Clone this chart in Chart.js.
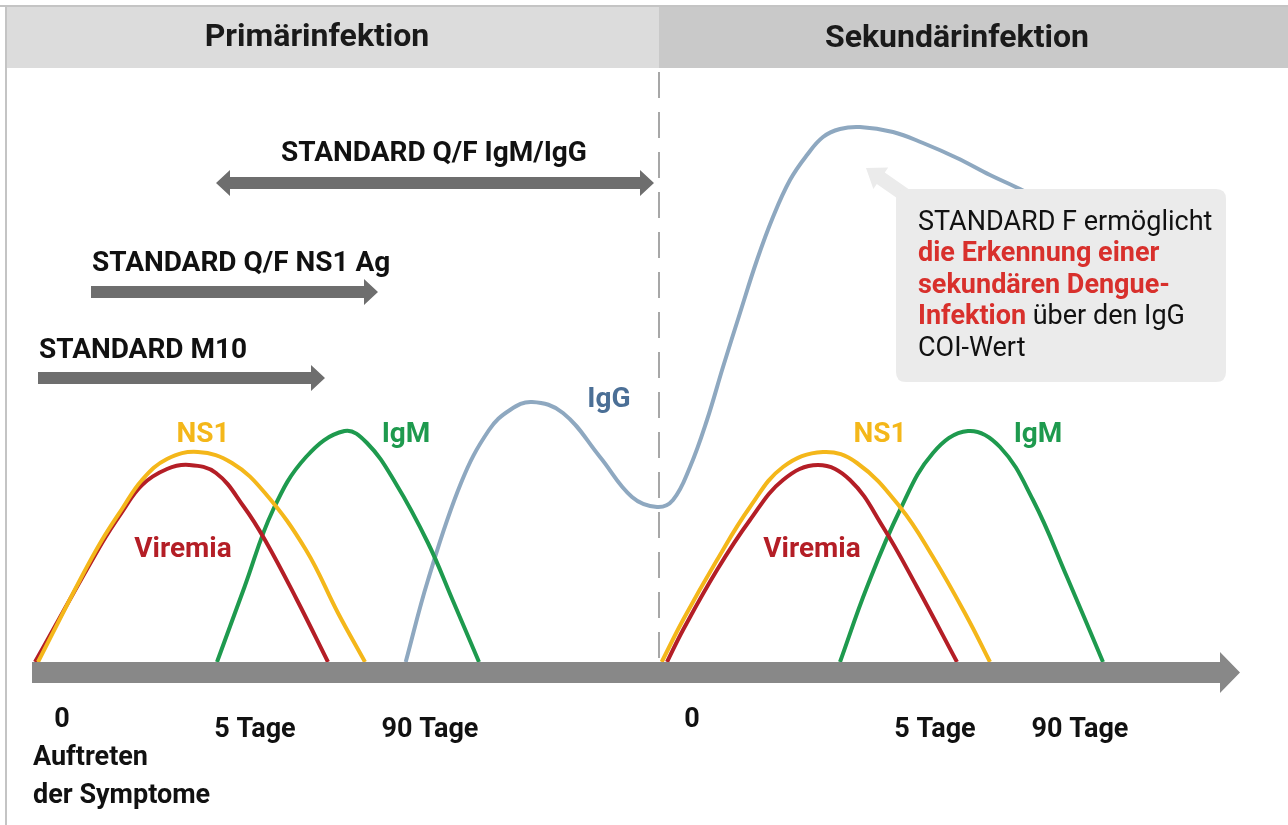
<!DOCTYPE html>
<html lang="de">
<head>
    <meta charset="UTF-8">
    <title>Dengue – Primär- und Sekundärinfektion</title>
    <script src="https://cdn.jsdelivr.net/npm/chart.js"></script>
    <style>
        html, body { margin: 0; padding: 0; background: #ffffff; }
        #chart-container { width: 1288px; height: 825px; position: relative; }
    </style>
</head>
<body>
    <div id="chart-container">
        <canvas id="myChart"></canvas>
    </div>

    <script>
        // Schematic values: x = time (arbitrary units), y = level (arbitrary units)
        // Primary infection
        var primNs1Time = [3.8, 8.1, 10.2, 12.2, 14.2, 16.7, 19.8, 23.2, 26.5, 30.6, 33.8, 36.5];
        var primNs1Level = [-0.2, 8.2, 12.0, 15.1, 18.0, 20.1, 20.8, 19.7, 16.7, 11.0, 4.7, -0.2];
        var primViremiaTime = [3.5, 10.2, 12.2, 14.2, 16.7, 18.9, 21.6, 24.4, 26.5, 29.7, 32.8];
        var primViremiaLevel = [-0.2, 11.7, 14.8, 17.5, 19.1, 19.5, 18.7, 15.3, 12.0, 6.0, -0.2];
        var primIgmTime = [21.7, 24.45, 27.3, 30.6, 34.45, 36.7, 39.55, 42.8, 45.26, 47.9];
        var primIgmLevel = [-0.2, 7.3, 15.0, 20.3, 22.9, 21.7, 17.7, 11.7, 6.0, -0.2];

        // IgG runs from the primary into the secondary infection
        var iggTime = [40.57, 42.8, 46.1, 48.9, 51.0, 53.2, 56.3, 60.0, 63.2, 65.7, 67.3, 69.0, 70.7, 72.3, 74.0,
                       75.7, 77.3, 79.0, 80.7, 82.3, 84.0, 86.0, 89.3, 92.3, 95.7, 99.0, 102.0, 105.0];
        var iggLevel = [-0.2, 8.0, 17.7, 23.0, 25.0, 25.8, 24.7, 20.3, 16.3, 15.3, 16.0, 19.3, 24.0, 29.3, 34.7,
                        40.0, 44.3, 48.0, 50.5, 52.3, 53.1, 53.3, 52.8, 51.7, 50.2, 48.5, 47.1, 45.5];

        // Secondary infection
        var secNs1Time = [66.17, 68.3, 71.7, 75.0, 78.3, 82.3, 85.7, 90.0, 93.3, 96.7, 99.0];
        var secNs1Level = [-0.2, 4.0, 10.0, 15.3, 19.3, 20.8, 19.7, 15.3, 10.3, 4.3, -0.2];
        var secViremiaTime = [66.7, 68.3, 71.7, 75.0, 78.3, 81.8, 85.0, 88.3, 91.7, 95.7];
        var secViremiaLevel = [-0.2, 3.0, 9.0, 14.0, 18.0, 19.5, 18.0, 13.3, 7.3, -0.2];
        var secIgmTime = [84.0, 86.7, 90.0, 93.3, 96.8, 100.0, 103.3, 106.7, 110.3];
        var secIgmLevel = [-0.2, 7.3, 15.0, 20.7, 22.9, 21.3, 16.0, 8.3, -0.2];

        // Test windows (time ranges)
        var testNames = ['STANDARD M10', 'STANDARD Q/F NS1 Ag', 'STANDARD Q/F IgM/IgG'];
        var testStart = [3.8, 9.1, 21.6];
        var testEnd = [32.5, 37.8, 65.4];

        // Time axis tick labels
        var tickLabels = ['0', '5 Tage', '90 Tage', '0', '5 Tage', '90 Tage'];
        var tickTimes = [6.2, 25.5, 43.0, 69.2, 93.5, 108.0];

        var infectionSplit = 65.9;
        var axisStart = 3.2;
        var axisEnd = 124.0;

        var sectionTitles = ['Primärinfektion', 'Sekundärinfektion'];

        var FONT = 'Roboto, "Liberation Sans", sans-serif';

        function zip(xs, ys) {
            return xs.map(function (x, i) { return { x: x, y: ys[i] }; });
        }

        function curve(label, xs, ys, color, order) {
            return {
                label: label,
                data: zip(xs, ys),
                borderColor: color,
                borderWidth: 4,
                pointRadius: 0,
                fill: false,
                tension: 0.4,
                order: order
            };
        }

        // draws a horizontal block arrow
        function blockArrow(ctx, x0, x1, yc, shaft, head, headLen, both, color) {
            var s = shaft / 2, h = head / 2;
            ctx.beginPath();
            if (both) {
                ctx.moveTo(x0, yc);
                ctx.lineTo(x0 + headLen, yc - h);
                ctx.lineTo(x0 + headLen, yc - s);
            } else {
                ctx.moveTo(x0, yc - s);
            }
            ctx.lineTo(x1 - headLen, yc - s);
            ctx.lineTo(x1 - headLen, yc - h);
            ctx.lineTo(x1, yc);
            ctx.lineTo(x1 - headLen, yc + h);
            ctx.lineTo(x1 - headLen, yc + s);
            if (both) {
                ctx.lineTo(x0 + headLen, yc + s);
                ctx.lineTo(x0 + headLen, yc + h);
            } else {
                ctx.lineTo(x0, yc + s);
            }
            ctx.closePath();
            ctx.fillStyle = color;
            ctx.fill();
        }

        function roundRect(ctx, x, y, w, h, r) {
            ctx.beginPath();
            ctx.moveTo(x + r, y);
            ctx.lineTo(x + w - r, y);
            ctx.quadraticCurveTo(x + w, y, x + w, y + r);
            ctx.lineTo(x + w, y + h - r);
            ctx.quadraticCurveTo(x + w, y + h, x + w - r, y + h);
            ctx.lineTo(x + r, y + h);
            ctx.quadraticCurveTo(x, y + h, x, y + h - r);
            ctx.lineTo(x, y + r);
            ctx.quadraticCurveTo(x, y, x + r, y);
            ctx.closePath();
        }

        var decorPlugin = {
            id: 'decor',
            beforeDatasetsDraw: function (chart) {
                var ctx = chart.ctx;
                var xs = chart.scales.x, ys = chart.scales.y;
                var W = chart.width, H = chart.height;
                var split = xs.getPixelForValue(infectionSplit);
                ctx.save();

                // frame lines
                ctx.fillStyle = '#c4c4c4';
                ctx.fillRect(0, 5, W, 2);
                ctx.fillRect(5, 5, 2, H - 5);

                // header bands
                ctx.fillStyle = '#dcdcdc';
                ctx.fillRect(7, 7, split - 7, 61);
                ctx.fillStyle = '#c9c9c9';
                ctx.fillRect(split, 7, W - split, 61);
                ctx.fillStyle = '#1a1a1a';
                ctx.font = 'bold 32px ' + FONT;
                ctx.textAlign = 'center';
                ctx.textBaseline = 'middle';
                ctx.fillText(sectionTitles[0], 317, 38);
                ctx.fillText(sectionTitles[1], 957, 39);

                // dashed divider
                ctx.strokeStyle = '#8a8a8a';
                ctx.lineWidth = 1.5;
                ctx.setLineDash([26, 14]);
                ctx.beginPath();
                ctx.moveTo(split, 72);
                ctx.lineTo(split, ys.getPixelForValue(0));
                ctx.stroke();
                ctx.setLineDash([]);

                // test windows
                var laneLevels = [28.2, 36.8, 47.7];
                var labelLift = [27, 28, 29];
                for (var i = 0; i < testNames.length; i++) {
                    var x0 = xs.getPixelForValue(testStart[i]);
                    var x1 = xs.getPixelForValue(testEnd[i]);
                    var yc = ys.getPixelForValue(laneLevels[i]);
                    var both = i === 2;
                    blockArrow(ctx, x0, x1, yc, 12, 26, 14, both, '#6e6e6e');
                    ctx.fillStyle = '#111111';
                    ctx.font = 'bold 28px ' + FONT;
                    ctx.textBaseline = 'middle';
                    if (both) {
                        ctx.textAlign = 'center';
                        ctx.fillText(testNames[i], 434, yc - labelLift[i]);
                    } else {
                        ctx.textAlign = 'left';
                        ctx.fillText(testNames[i], x0 + 1, yc - labelLift[i]);
                    }
                }
                ctx.restore();
            },
            afterDatasetsDraw: function (chart) {
                var ctx = chart.ctx;
                var xs = chart.scales.x, ys = chart.scales.y;
                ctx.save();

                // time axis arrow (covers the curve ends)
                var base = ys.getPixelForValue(0);
                blockArrow(ctx, xs.getPixelForValue(axisStart), xs.getPixelForValue(axisEnd),
                    base + 12.5, 21, 41, 20, false, '#888888');

                // tick labels
                ctx.fillStyle = '#111111';
                ctx.font = 'bold 27px ' + FONT;
                ctx.textAlign = 'center';
                ctx.textBaseline = 'middle';
                for (var i = 0; i < tickLabels.length; i++) {
                    var ty = tickLabels[i] === '0' ? base + 60 : base + 70;
                    ctx.fillText(tickLabels[i], xs.getPixelForValue(tickTimes[i]), ty);
                }
                ctx.textAlign = 'left';
                ctx.fillText('Auftreten', 33, base + 98);
                ctx.fillText('der Symptome', 33, base + 136);

                // curve labels
                var curveLabels = [
                    ['NS1', 20.3, 22.5, '#f4b71a'], ['IgM', 40.6, 22.5, '#1e9a4e'],
                    ['Viremia', 18.3, 11.0, '#b41e26'], ['IgG', 60.9, 26.0, '#4b6f96'],
                    ['NS1', 88.0, 22.5, '#f4b71a'], ['IgM', 103.8, 22.5, '#1e9a4e'],
                    ['Viremia', 81.2, 11.0, '#b41e26']
                ];
                ctx.font = 'bold 28px ' + FONT;
                ctx.textAlign = 'center';
                curveLabels.forEach(function (c) {
                    ctx.fillStyle = c[3];
                    ctx.fillText(c[0], xs.getPixelForValue(c[1]), ys.getPixelForValue(c[2]));
                });

                // callout with pointer
                var bx = 896, by = 189, bw = 330, bh = 193;
                ctx.fillStyle = '#ebebeb';
                var tip = [866, 168], from = [912, 200];
                var dx = tip[0] - from[0], dy = tip[1] - from[1];
                var len = Math.sqrt(dx * dx + dy * dy);
                var ux = dx / len, uy = dy / len, nx = -uy, ny = ux;
                var hb = [tip[0] - ux * 18, tip[1] - uy * 18];
                ctx.beginPath();
                ctx.moveTo(from[0] + nx * 7, from[1] + ny * 7);
                ctx.lineTo(hb[0] + nx * 7, hb[1] + ny * 7);
                ctx.lineTo(hb[0] + nx * 13, hb[1] + ny * 13);
                ctx.lineTo(tip[0], tip[1]);
                ctx.lineTo(hb[0] - nx * 13, hb[1] - ny * 13);
                ctx.lineTo(hb[0] - nx * 7, hb[1] - ny * 7);
                ctx.lineTo(from[0] - nx * 7, from[1] - ny * 7);
                ctx.closePath();
                ctx.fill();
                roundRect(ctx, bx, by, bw, bh, 10);
                ctx.fill();

                var lines = [
                    [['STANDARD F ermöglicht', false]],
                    [['die Erkennung einer', true]],
                    [['sekundären Dengue-', true]],
                    [['Infektion', true], [' über den IgG', false]],
                    [['COI-Wert', false]]
                ];
                ctx.textAlign = 'left';
                ctx.textBaseline = 'middle';
                lines.forEach(function (segs, li) {
                    var x = 918, y = 223 + li * 31.5;
                    segs.forEach(function (s) {
                        ctx.font = (s[1] ? 'bold ' : '') + '27px ' + FONT;
                        ctx.fillStyle = s[1] ? '#d8302c' : '#111111';
                        ctx.fillText(s[0], x, y);
                        x += ctx.measureText(s[0]).width;
                    });
                });
                ctx.restore();
            }
        };

        function createGraph() {
            var ctx = document.getElementById('myChart').getContext('2d');
            new Chart(ctx, {
                type: 'line',
                data: {
                    datasets: [
                        curve('IgG', iggTime, iggLevel, '#8ea8c0', 7),
                        curve('IgM primär', primIgmTime, primIgmLevel, '#1e9a4e', 6),
                        curve('Viremia primär', primViremiaTime, primViremiaLevel, '#b41e26', 5),
                        curve('NS1 primär', primNs1Time, primNs1Level, '#f4b71a', 4),
                        curve('IgM sekundär', secIgmTime, secIgmLevel, '#1e9a4e', 3),
                        curve('Viremia sekundär', secViremiaTime, secViremiaLevel, '#b41e26', 2),
                        curve('NS1 sekundär', secNs1Time, secNs1Level, '#f4b71a', 1)
                    ]
                },
                options: {
                    responsive: true,
                    maintainAspectRatio: false,
                    animation: false,
                    layout: { padding: 0 },
                    plugins: {
                        legend: { display: false },
                        tooltip: { enabled: false }
                    },
                    scales: {
                        x: { type: 'linear', min: 0, max: 128.8, display: false },
                        y: { type: 'linear', min: -16.5, max: 66, display: false }
                    }
                },
                plugins: [decorPlugin]
            });
        }

        createGraph();
    </script>
</body>
</html>
